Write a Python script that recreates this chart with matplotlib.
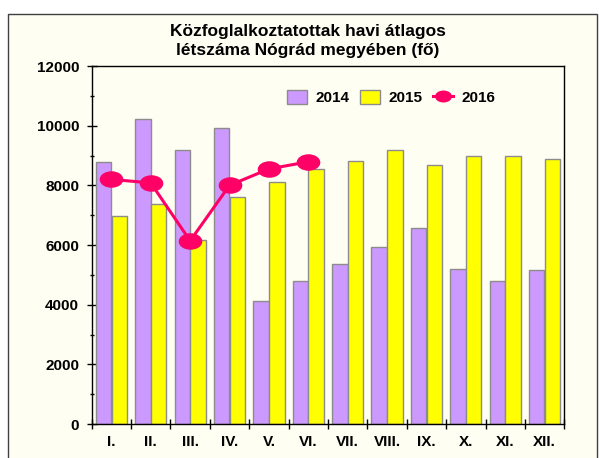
import numpy as np
import matplotlib
matplotlib.use("Agg")
from matplotlib import pyplot as plt
from matplotlib.path import Path
from matplotlib.patches import Rectangle
from matplotlib.ticker import MultipleLocator

plt.rcParams["font.family"] = ["Liberation Sans", "DejaVu Sans"]
plt.rcParams["font.weight"] = "bold"

months = ["I.", "II.", "III.", "IV.", "V.", "VI.", "VII.", "VIII.", "IX.", "X.", "XI.", "XII."]
v2014 = [8790, 10230, 9170, 9920, 4130, 4780, 5350, 5920, 6560, 5180, 4800, 5150]
v2015 = [6970, 7370, 6160, 7610, 8120, 8550, 8810, 9170, 8680, 9000, 9000, 8870]
v2016 = [8200, 8080, 6140, 8000, 8550, 8790]
title = "Közfoglalkoztatottak havi átlagos\nlétszáma Nógrád megyében (fő)"

BG = "#FEFEF2"
PURPLE = "#CC99FF"
YELLOW = "#FFFF00"
PINK = "#FF0066"

W, H = 599, 458
fig = plt.figure(figsize=(W / 100, H / 100), dpi=100, facecolor="white")

# chart area frame (runs off the bottom of the image)
fig.patches.append(Rectangle((8 / W, -0.05), (597 - 8) / W, 1.05 - 14 / H,
                             transform=fig.transFigure, facecolor=BG,
                             edgecolor="#404040", lw=1.0, zorder=-5))

ax = fig.add_axes([91.7 / W, 1 - 424 / H, (564.3 - 91.7) / W, (424 - 66) / H])
ax.set_facecolor(BG)

x = np.arange(len(months))
bw = 0.393
b1 = ax.bar(x - 0.2, v2014, bw, color=PURPLE, edgecolor="#8c8c8c", lw=1.0, label="2014", zorder=2)
b2 = ax.bar(x + 0.2, v2015, bw, color=YELLOW, edgecolor="#8c8c8c", lw=1.0, label="2015", zorder=2)

ell = Path(Path.unit_circle().vertices * np.array([1.0, 0.68]), Path.unit_circle().codes)
ln, = ax.plot(x[:len(v2016)], v2016, color=PINK, lw=2.2, marker=ell, ms=16,
              mfc=PINK, mec=PINK, label="2016", zorder=3)

ax.set_xlim(-0.5, 11.5)
ax.set_ylim(0, 12000)
ax.yaxis.set_major_locator(MultipleLocator(2000))
ax.yaxis.set_minor_locator(MultipleLocator(1000))
ax.tick_params(axis="y", which="major", direction="inout", length=7, width=1, labelsize=11, pad=5.5)
ax.tick_params(axis="y", which="minor", direction="inout", length=3.5, width=1)
ax.set_xticks(x)
ax.set_xticklabels(months)
ax.set_xticks(np.arange(-0.5, 12, 1), minor=True)
ax.tick_params(axis="x", which="major", length=0, labelsize=11, pad=8)
ax.tick_params(axis="x", which="minor", direction="inout", length=7, width=1)
for lbl in ax.get_xticklabels() + ax.get_yticklabels():
    lbl.set_fontweight("bold")
for sp in ax.spines.values():
    sp.set_color("black")
    sp.set_linewidth(1.0)

fig.text(308 / W, 1 - 41 / H, title, ha="center", va="center", fontsize=12.5,
         fontweight="bold", linespacing=1.3)

leg = ax.legend([b1, b2, ln], ["2014", "2015", "2016"], loc="center left",
                bbox_to_anchor=(0.40, 0.912), ncol=3, frameon=False,
                fontsize=11, handlelength=1.35, handleheight=1.1, columnspacing=0.7,
                handletextpad=0.5, borderaxespad=0, markerscale=0.7)
for t in leg.get_texts():
    t.set_fontweight("bold")

fig.savefig("out.png", dpi=100, facecolor="white")
